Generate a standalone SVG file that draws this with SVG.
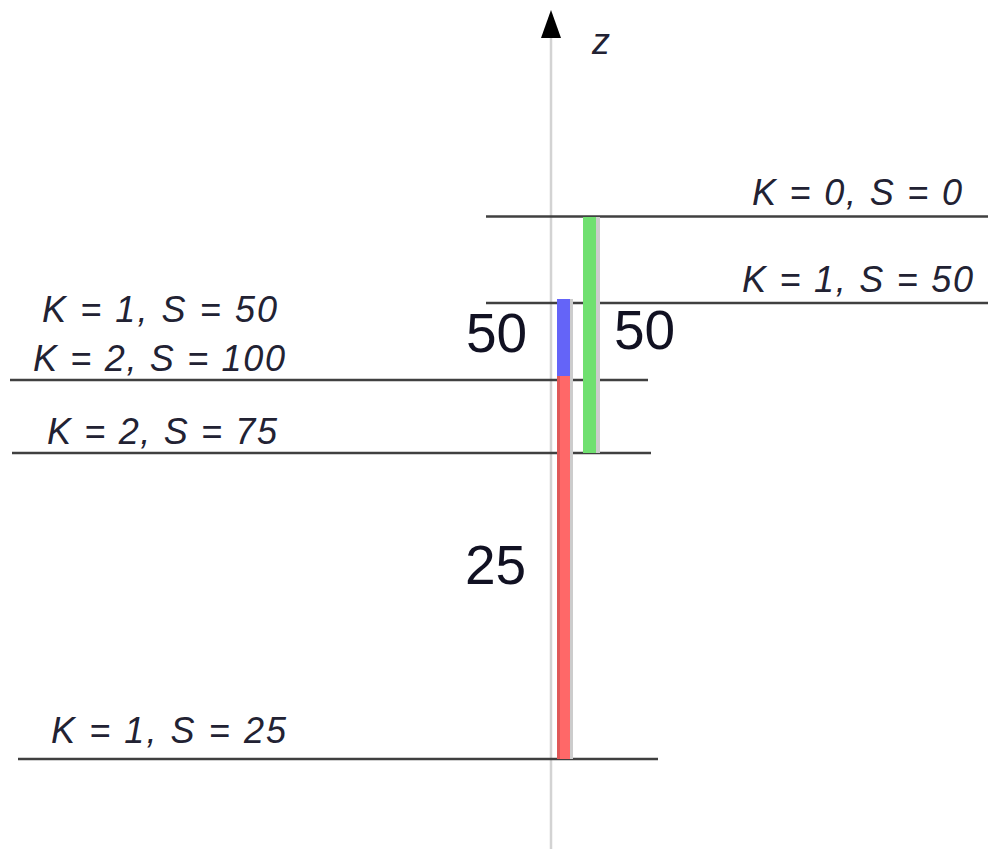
<svg xmlns="http://www.w3.org/2000/svg" width="988" height="849" viewBox="0 0 988 849">
<style>
.lbl{font-family:"Liberation Sans",Arial,sans-serif;font-style:italic;font-size:36px;fill:#222233;}
.num{font-family:"Liberation Sans",Arial,sans-serif;font-size:55px;fill:#111122;}
.hl{stroke:#404040;stroke-width:2.5;}
.shadow{fill:#cccccc;}
</style>
<rect width="988" height="849" fill="#ffffff"/>
<g id="axis">
<line x1="551" y1="36" x2="551" y2="849" stroke="#d3d3d3" stroke-width="2.5"/>
<polygon points="551,10 541,38 561,38" fill="#000000"/>
<text x="592" y="54" class="lbl" font-size="36">z</text>
</g>
<g id="levels">
<line class="hl" x1="486" y1="216.5" x2="988" y2="216.5"/>
<line class="hl" x1="486" y1="303" x2="988" y2="303"/>
<line class="hl" x1="10" y1="380" x2="648" y2="380"/>
<line class="hl" x1="12" y1="453" x2="651" y2="453"/>
<line class="hl" x1="18" y1="759" x2="658" y2="759"/>
</g>
<g id="bars">
<rect class="shadow" x="596" y="217" width="4" height="236"/>
<rect x="583" y="217" width="13" height="236" fill="#70e070"/>
<rect class="shadow" x="570" y="299" width="3" height="460"/>
<rect x="557" y="299" width="13" height="77" fill="#6464f8"/>
<rect x="557" y="376" width="13" height="383" fill="#ff6868"/>
<rect x="557" y="376" width="3" height="383" fill="#e05858"/>
</g>
<g id="labels">
<text x="752" y="205" class="lbl" textLength="210" lengthAdjust="spacing">K = 0, S = 0</text>
<text x="742" y="292" class="lbl" textLength="231" lengthAdjust="spacing">K = 1, S = 50</text>
<text x="42" y="322" class="lbl" textLength="235" lengthAdjust="spacing">K = 1, S = 50</text>
<text x="33" y="371" class="lbl" textLength="252" lengthAdjust="spacing">K = 2, S = 100</text>
<text x="47" y="444" class="lbl" textLength="230" lengthAdjust="spacing">K = 2, S = 75</text>
<text x="51" y="743" class="lbl" textLength="235" lengthAdjust="spacing">K = 1, S = 25</text>
<text x="466" y="352" class="num">50</text>
<text x="614" y="349" class="num">50</text>
<text x="465" y="584" class="num">25</text>
</g>
</svg>
